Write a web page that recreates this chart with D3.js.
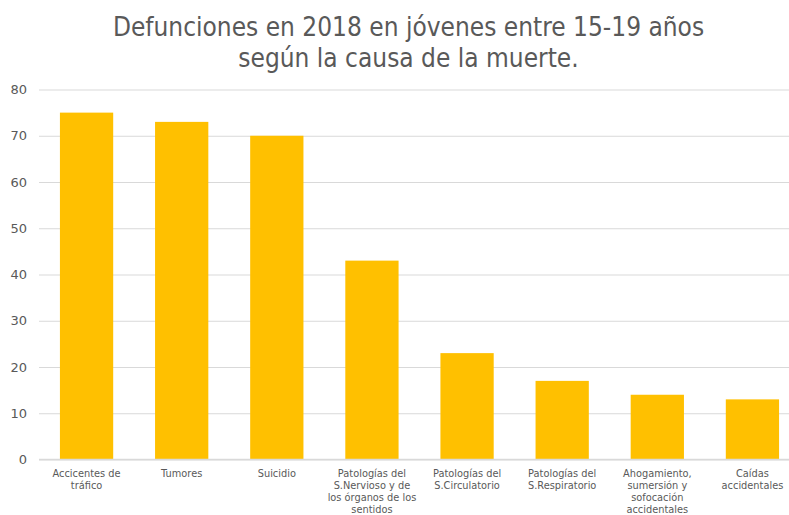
<!DOCTYPE html>
<html>
<head>
<meta charset="utf-8">
<script src="https://cdn.jsdelivr.net/npm/d3@7"></script>
<style>
  body { margin: 0; background: #fff; }
  svg { display: block; }
</style>
</head>
<body>
<script>
'use strict'

const GRID  = '#d9d9d9'
const TEXT  = '#595959'
const BAR   = '#ffc000'

const titleLines = ['Defunciones en 2018 en jóvenes entre 15-19 años', 'según la causa de la muerte.']

// each category split into the lines shown under the bar
const categories = [
  ['Accicentes de', 'tráfico'],
  ['Tumores'],
  ['Suicidio'],
  ['Patologías del', 'S.Nervioso y de', 'los órganos de los', 'sentidos'],
  ['Patologías del', 'S.Circulatorio'],
  ['Patologías del', 'S.Respiratorio'],
  ['Ahogamiento,', 'sumersión y', 'sofocación', 'accidentales'],
  ['Caídas', 'accidentales']
]
const values = [75, 73, 70, 43, 23, 17, 14, 13]
const yTicks = [0, 10, 20, 30, 40, 50, 60, 70, 80]

const W = 789, H = 515
const svg = d3.select('body').append('svg')
  .attr('width', W)
  .attr('height', H)

const x = d3.scaleBand()
  .domain(d3.range(values.length))
  .range([39, 800])
  .paddingInner(0.44)
  .paddingOuter(0.22)

const y = d3.scaleLinear()
  .domain([0, 80])
  .range([459.5, 89.5])

// title
svg.append('text')
  .attr('text-anchor', 'middle')
  .attr('fill', TEXT)
  .style('font-family', '"DejaVu Sans Condensed", "DejaVu Sans", sans-serif')
  .style('font-size', '26px')
  .selectAll('tspan')
  .data(titleLines)
  .join('tspan')
  .attr('x', W / 2 + 14)
  .attr('y', (d, i) => 36 + i * 31)
  .text(d => d)

// gridlines + y labels
const yAxis = svg.append('g')
  .attr('transform', 'translate(39,0)')
  .call(d3.axisLeft(y).tickValues(yTicks).tickSize(-(W - 39)).tickPadding(12))
yAxis.select('.domain').remove()
yAxis.selectAll('.tick line').attr('stroke', GRID)
yAxis.selectAll('.tick text')
  .attr('fill', TEXT)
  .style('font-family', '"DejaVu Sans", Verdana, sans-serif')
  .style('font-size', '13px')

// bars
svg.append('g')
  .selectAll('rect')
  .data(values)
  .join('rect')
  .attr('x', (d, i) => x(i))
  .attr('y', d => y(d))
  .attr('width', x.bandwidth())
  .attr('height', d => y(0) - y(d))
  .attr('fill', BAR)

// baseline
svg.append('line')
  .attr('x1', 39).attr('x2', W)
  .attr('y1', y(0)).attr('y2', y(0))
  .attr('stroke', GRID)
  .attr('stroke-width', 1.5)

// category labels
svg.append('g')
  .selectAll('text')
  .data(categories)
  .join('text')
  .attr('text-anchor', 'middle')
  .attr('fill', TEXT)
  .style('font-family', '"DejaVu Sans", Verdana, sans-serif')
  .style('font-size', '9.8px')
  .each(function (lines, i) {
    d3.select(this).selectAll('tspan')
      .data(lines)
      .join('tspan')
      .attr('x', x(i) + x.bandwidth() / 2)
      .attr('y', (d, j) => 477 + j * 12)
      .text(d => d)
  })
</script>
</body>
</html>
